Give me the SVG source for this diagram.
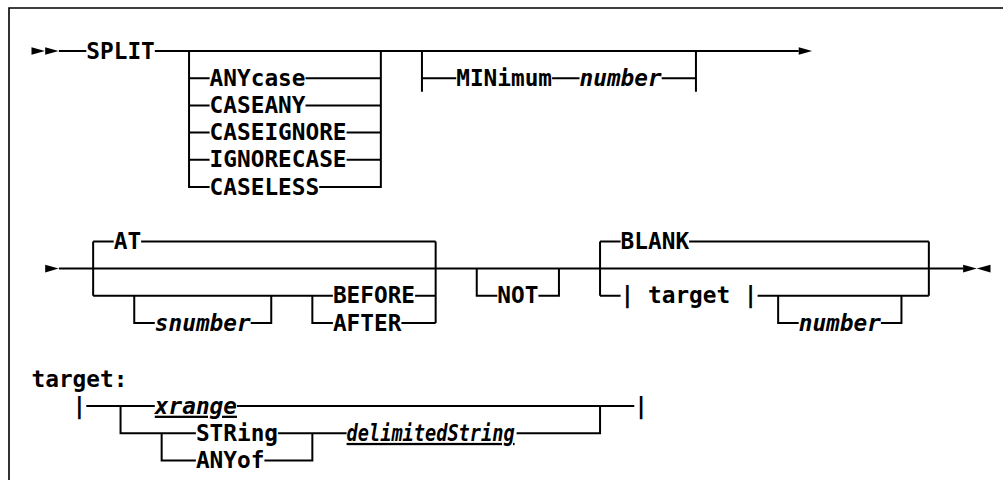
<svg xmlns="http://www.w3.org/2000/svg" width="1003" height="480" viewBox="0 0 1003 480">
<style>
text{font-family:"DejaVu Sans Mono","Liberation Mono",monospace;font-size:22.75px;font-weight:bold;fill:#000}
.it{font-style:italic}
.ul{text-decoration:underline}
.ln{stroke:#000;stroke-width:2;fill:none}
.ah{fill:#000}
</style>
<rect x="0" y="0" width="1003" height="480" fill="#fff"/>
<g id="frame"><path d="M9,480 V8 H1003" stroke="#000" stroke-width="1.6" fill="none"/></g>

<g id="connectors" class="ln">
<!-- row 0 -->
<path d="M58.9,51 H86.3 M154.8,51 H798.7"/>
<!-- group 1 -->
<path d="M189.05,51 V187 H209.6 M380.85,51 V187 H319.2"/>
<path d="M189.05,78.2 H209.6 M305.5,78.2 H380.85"/>
<path d="M189.05,105.4 H209.6 M305.5,105.4 H380.85"/>
<path d="M189.05,132.6 H209.6 M346.6,132.6 H380.85"/>
<path d="M189.05,159.8 H209.6 M346.6,159.8 H380.85"/>
<!-- group 2 -->
<path d="M421.95,51 V91.8 M695.95,51 V91.8"/>
<path d="M421.95,78.2 H456.2 M552.1,78.2 H579.5 M661.7,78.2 H695.95"/>
<!-- section 2 main -->
<path d="M58.9,268.6 H963.1"/>
<!-- AT group -->
<path d="M93.15,241.4 V295.8 M435.65,241.4 V323"/>
<path d="M93.15,241.4 H113.7 M141.1,241.4 H435.65"/>
<path d="M93.15,295.8 H332.9 M415.1,295.8 H435.65"/>
<path d="M134.25,295.8 V323 H154.8 M250.7,323 H271.25 V295.8"/>
<path d="M312.35,295.8 V323 H332.9 M401.4,323 H435.65"/>
<!-- NOT group -->
<path d="M476.75,268.6 V295.8 H497.3 M538.4,295.8 H558.95 V268.6"/>
<!-- BLANK group -->
<path d="M600.05,241.4 V295.8 M928.85,241.4 V295.8"/>
<path d="M600.05,241.4 H620.6 M689.1,241.4 H928.85"/>
<path d="M600.05,295.8 H620.6 M757.6,295.8 H928.85"/>
<path d="M778.15,295.8 V323 H798.7 M880.9,323 H901.45 V295.8"/>
<!-- target section -->
<path d="M86.3,406.1 H154.8 M237,406.1 H634.3"/>
<path d="M120.55,406.1 V433.3 H195.9 M278.1,433.3 H346.6 M516.6,433.3 H600.05 V406.1"/>
<path d="M161.65,433.3 V460.5 H195.9 M264.4,460.5 H312.35 V433.3"/>
</g>

<g id="arrowheads" class="ah">
<polygon points="31.5,47.2 44.9,51 31.5,54.8"/>
<polygon points="45.2,47.2 58.6,51 45.2,54.8"/>
<polygon points="798.7,47.2 812.1,51 798.7,54.8"/>
<polygon points="45.2,264.8 58.6,268.6 45.2,272.4"/>
<polygon points="963.1,264.8 976.8,268.6 963.1,272.4"/>
<polygon points="990.5,264.8 976.8,268.6 990.5,272.4"/>
</g>

<g id="n-split"><text x="86.3" y="58.6">SPLIT</text></g>
<g id="n-anycase"><text x="209.6" y="85.8">ANYcase</text></g>
<g id="n-caseany"><text x="209.6" y="113">CASEANY</text></g>
<g id="n-caseignore"><text x="209.6" y="140.2">CASEIGNORE</text></g>
<g id="n-ignorecase"><text x="209.6" y="167.4">IGNORECASE</text></g>
<g id="n-caseless"><text x="209.6" y="194.6">CASELESS</text></g>
<g id="n-minimum"><text x="456.2" y="85.8">MINimum</text></g>
<g id="n-number1"><text class="it" x="579.5" y="85.8">number</text></g>

<g id="n-at"><text x="113.7" y="249">AT</text></g>
<g id="n-snumber"><text class="it" x="154.8" y="330.6">snumber</text></g>
<g id="n-before"><text x="332.9" y="303.4">BEFORE</text></g>
<g id="n-after"><text x="332.9" y="330.6">AFTER</text></g>
<g id="n-not"><text x="497.3" y="303.4">NOT</text></g>
<g id="n-blank"><text x="620.6" y="249">BLANK</text></g>
<g id="n-target-ref"><text x="620.6" y="303.4" xml:space="preserve">| target |</text></g>
<g id="n-number2"><text class="it" x="798.7" y="330.6">number</text></g>

<g id="n-target-label"><text x="31.5" y="386.5">target:</text></g>
<g id="n-bar-left"><text x="72.6" y="413.7">|</text></g>
<g id="n-xrange"><text class="it ul" x="154.8" y="413.7">xrange</text></g>
<g id="n-bar-right"><text x="634.3" y="413.7">|</text></g>
<g id="n-string"><text x="195.9" y="440.9">STRing</text></g>
<g id="n-anyof"><text x="195.9" y="468.1">ANYof</text></g>
<g id="n-delimitedstring"><text class="it ul" x="346.6" y="440.9" textLength="168" lengthAdjust="spacingAndGlyphs">delimitedString</text></g>
</svg>
